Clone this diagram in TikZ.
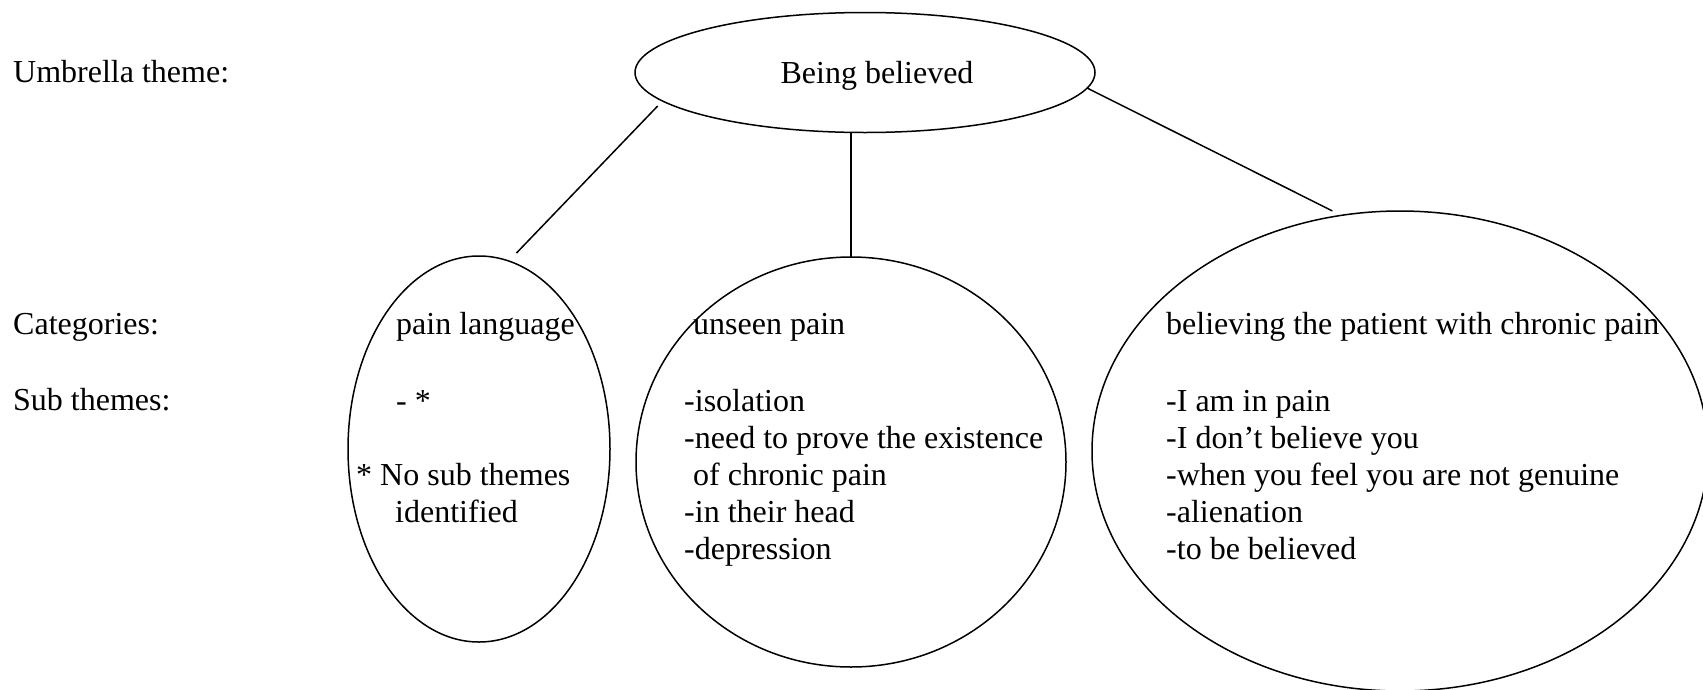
\documentclass[tikz,border=0pt]{standalone}
\usepackage{fontspec}
\setmainfont{Liberation Serif}
\usetikzlibrary{shapes.geometric}
\begin{document}
\begin{tikzpicture}[x=1pt,y=-1pt,
  ell/.style={draw, ellipse, line width=1.5pt, inner sep=0pt, outer sep=0pt},
  lbl/.style={anchor=base west, inner sep=0pt, font=\fontsize{32}{37}\selectfont},
  link/.style={line width=1.5pt}]
\useasboundingbox (0,0) rectangle (1703,689);
\fill[white] (0,0) rectangle (1703,689);

% row labels
\node[lbl] (lu) at (13,82) {Umbrella theme:};
\node[lbl] (lc) at (13,334) {Categories:};
\node[lbl] (ls) at (13,410) {Sub themes:};

% ellipses
\node[ell, minimum width=460pt, minimum height=120pt] (top) at (865,72.5) {};
\node[ell, minimum width=262pt, minimum height=386pt] (e1) at (479,449) {};
\node[ell, minimum width=430pt, minimum height=410pt] (e2) at (851,462) {};
\node[ell, minimum width=616pt, minimum height=480pt] (e3) at (1400,451) {};

\node[lbl, anchor=base] (bb) at (877,83) {Being believed};

% connectors
\draw[link, shorten <=7pt, shorten >=11pt] (top.188.5) -- (e1.81);
\draw[link] (e2.north |- top.south) -- (e2.north);
\draw[link, shorten >=10pt] (top.356.6) -- (e3.104);

% ellipse 1
\node[lbl] (a0) at (396,334) {pain language};
\node[lbl] (a1) at (396,411) {- *};
\node[lbl] (a2) at (356,485) {* No sub themes};
\node[lbl] (a3) at (395,522) {identified};

% ellipse 2
\node[lbl] (b0) at (693,334) {unseen pain};
\node[lbl] (b1) at (684,411) {-isolation};
\node[lbl] (b2) at (684,448) {-need to prove the existence};
\node[lbl] (b3) at (693,485) {of chronic pain};
\node[lbl] (b4) at (684,522) {-in their head};
\node[lbl] (b5) at (684,559) {-depression};

% ellipse 3
\node[lbl] (c0) at (1166,334) {believing the patient with chronic pain};
\node[lbl] (c1) at (1166,411) {-I am in pain};
\node[lbl] (c2) at (1166,448) {-I don’t believe you};
\node[lbl] (c3) at (1166,485) {-when you feel you are not genuine};
\node[lbl] (c4) at (1166,522) {-alienation};
\node[lbl] (c5) at (1166,559) {-to be believed};
\end{tikzpicture}
\end{document}
